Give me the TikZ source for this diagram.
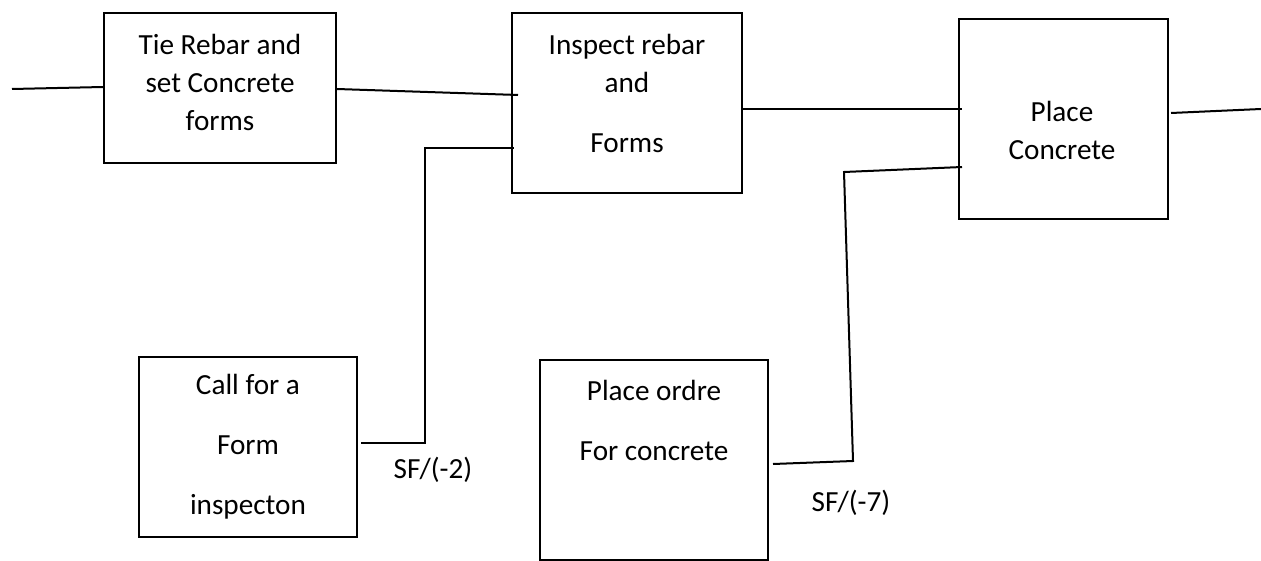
\documentclass[tikz,border=0pt]{standalone}
\usepackage{fontspec}
\setmainfont{Carlito}
\usetikzlibrary{calc}

\begin{document}
\begin{tikzpicture}[x=0.5pt, y=-0.5pt,   % one unit = one pixel, y runs down
    procbox/.style={
        draw,
        line width=1pt,
        inner sep=0pt
    },
    boxtext/.style={
        align=center,
        inner sep=0pt,
        font=\fontsize{14.6}{19}\selectfont
    },
    link/.style={line width=1pt}
]
    \useasboundingbox (0,0) rectangle (1261,561);

    % 1. The activity boxes
    \node [procbox, minimum width=116pt, minimum height=75pt] (Tie) at (220,88) {};
    \node [procbox, minimum width=115pt, minimum height=90pt] (Inspect) at (627,103) {};
    \node [procbox, minimum width=104.5pt, minimum height=100pt] (Place) at (1063.5,119) {};
    \node [procbox, minimum width=109pt, minimum height=90pt] (Call) at (248,447) {};
    \node [procbox, minimum width=114pt, minimum height=100pt] (Order) at (654,459.5) {};

    % 2. The texts in the boxes
    \node [boxtext] (TieText) at (220,82) {Tie Rebar and\\set Concrete\\forms};
    \node [boxtext] (InspectText) at (627,93) {Inspect rebar\\and\\[11pt]Forms};
    \node [boxtext] (PlaceText) at (1062,130) {Place\\Concrete};
    \node [boxtext] (CallText) at (248,447) {Call for a\\[11pt]Form\\[11pt]inspecton};
    \node [boxtext] (OrderText) at (654,420) {Place ordre\\[11pt]For concrete};

    % 3. The lags
    \node [boxtext] (LagForm) at (433,470) {SF/(-2)};
    \node [boxtext] (LagOrder) at (851,503) {SF/(-7)};

    % 4. The connections
    \coordinate (start) at (12,89);
    \coordinate (finish) at (1261,109);
    \draw [link] (start) -- ($(Tie.west)+(0,-1)$);
    \draw [link] ($(Tie.east)+(0,1)$) -- ($(Inspect.west)+(7,-8)$);
    \draw [link] ($(Inspect.east)+(0,6)$) -- ($(Place.west)+(4,-10)$);
    \draw [link] ($(Place.east)+(2,-6)$) -- (finish);
    \draw [link] ($(Call.east)+(3,-4)$) -- ++(64,0) |- ($(Inspect.west)+(3,45)$);
    \draw [link] ($(Order.east)+(4,4.5)$) -- ++(80,-3) -- ++(-9,-289) -- ($(Place.west)+(4,48)$);

\end{tikzpicture}
\end{document}
